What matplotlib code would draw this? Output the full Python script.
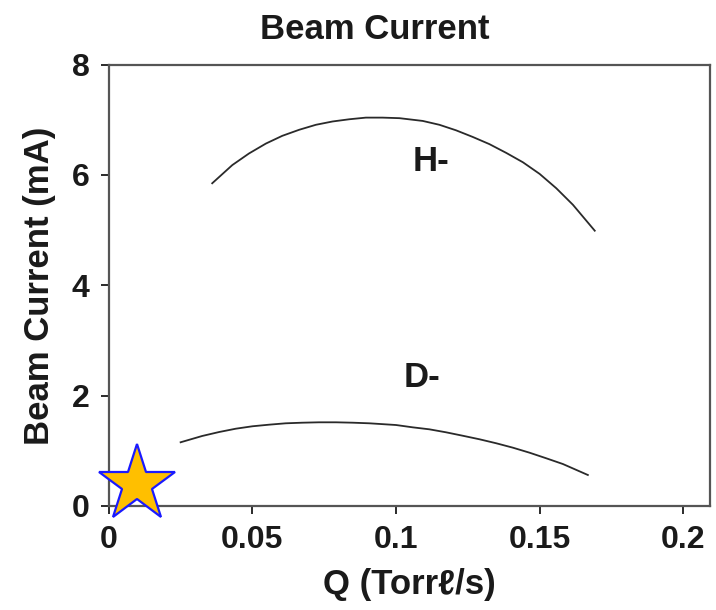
import matplotlib
matplotlib.use("Agg")
import matplotlib.pyplot as plt

plt.rcParams['font.family'] = ['Liberation Sans', 'DejaVu Sans']
plt.rcParams['font.weight'] = 'bold'
plt.rcParams['axes.labelweight'] = 'bold'

# H- beam current vs gas flow
h_q = [0.0360, 0.0430, 0.0488, 0.0547, 0.0604, 0.0663, 0.0721, 0.0779,
       0.0837, 0.0895, 0.0953, 0.1012, 0.1093, 0.1151, 0.1209, 0.1267,
       0.1325, 0.1384, 0.1442, 0.1500, 0.1558, 0.1616, 0.1692]
h_current = [5.85, 6.18, 6.39, 6.57, 6.71, 6.82, 6.91, 6.97,
             7.01, 7.04, 7.04, 7.03, 6.98, 6.91, 6.81, 6.69,
             6.56, 6.40, 6.23, 6.02, 5.76, 5.46, 4.99]

# D- beam current vs gas flow
d_q = [0.0250, 0.0325, 0.0384, 0.0442, 0.0500, 0.0558, 0.0616, 0.0674,
       0.0732, 0.0791, 0.0849, 0.0907, 0.1000, 0.1058, 0.1116, 0.1174,
       0.1232, 0.1291, 0.1349, 0.1407, 0.1465, 0.1523, 0.1581, 0.1668]
d_current = [1.155, 1.269, 1.341, 1.401, 1.445, 1.474, 1.499, 1.510,
             1.517, 1.517, 1.510, 1.499, 1.468, 1.426, 1.390, 1.336,
             1.274, 1.209, 1.137, 1.057, 0.966, 0.865, 0.761, 0.562]

# operating point marked with a star
star_q = [0.0098]
star_current = [0.40]

x_ticks = [0, 0.05, 0.1, 0.15, 0.2]
x_tick_labels = ['0', '0.05', '0.1', '0.15', '0.2']
y_ticks = [0, 2, 4, 6, 8]

text_col = '#1a1a1a'

fig = plt.figure(figsize=(7.16, 6.10), dpi=100)
ax = fig.add_axes([0.152, 0.1705, 0.8395, 0.7235])

ax.plot(h_q, h_current, color='#2a2a2a', lw=1.3)
ax.plot(d_q, d_current, color='#2a2a2a', lw=1.3)
ax.plot(star_q, star_current, marker='*', markersize=58, color='#ffbf00',
        markeredgecolor='#1a1aff', markeredgewidth=1.6, clip_on=False, zorder=5)

ax.text(0.1121, 6.24, 'H-', fontsize=25, fontweight='bold',
        ha='center', va='center', color=text_col)
ax.text(0.109, 2.33, 'D-', fontsize=25, fontweight='bold',
        ha='center', va='center', color=text_col)

ax.set_xlim(0, 0.2093)
ax.set_ylim(0, 8)
ax.set_xticks(x_ticks)
ax.set_xticklabels(x_tick_labels)
ax.set_yticks(y_ticks)
ax.tick_params(labelsize=23, colors=text_col, length=6, width=1.3,
               direction='out')
ax.tick_params(axis='x', pad=8)
ax.tick_params(axis='y', pad=8)
for lbl in ax.get_xticklabels() + ax.get_yticklabels():
    lbl.set_fontweight('bold')
for s in ax.spines.values():
    s.set_color('#555555')
    s.set_linewidth(1.6)

ax.set_xlabel('Q (Torrℓ/s)', fontsize=25, color=text_col, labelpad=9)
ax.set_ylabel('Beam Current (mA)', fontsize=25, color=text_col, labelpad=11)
fig.text(0.524, 0.951, 'Beam Current', fontsize=25, fontweight='bold',
         ha='center', va='center', color=text_col)

fig.savefig('out.png', dpi=100)
